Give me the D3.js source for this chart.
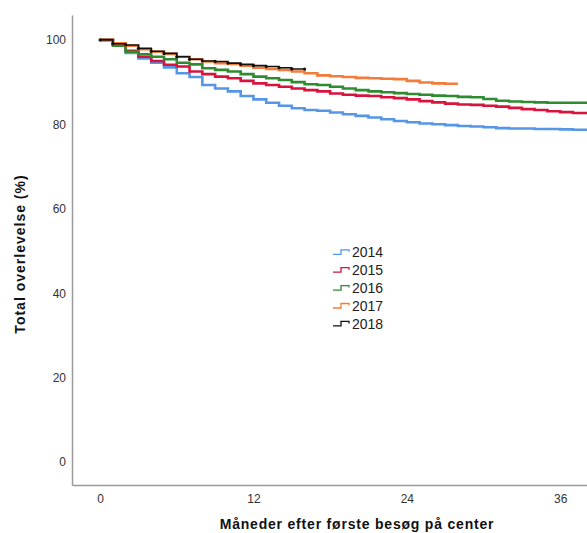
<!DOCTYPE html>
<html>
<head>
<meta charset="utf-8">
<script src="https://cdn.jsdelivr.net/npm/d3@7"></script>
<style>
  body { margin: 0; background: #fff; }
  svg { display: block; font-family: "Liberation Sans", Arial, sans-serif; }
</style>
</head>
<body>
<div id="chart"></div>
<script>
// Months since first visit at which the curves are read (one step per month)
const months = [0, 1, 2, 3, 4, 5, 6, 7, 8, 9, 10, 11, 12, 13, 14, 15, 16, 17, 18, 19,
  20, 21, 22, 23, 24, 25, 26, 27, 28, 29, 30, 31, 32, 33, 34, 35, 36, 37, 38.2];

// Survival (%) per cohort, one value per month above (null = no follow-up)
const s2014 = [100, 98.9, 96.9, 95.6, 94.6, 93.5, 92.1, 91.2, 89.3, 88.5, 87.8, 86.7, 85.9, 85.1, 84.4, 83.8, 83.4, 83.2, 82.8, 82.4,
  82.0, 81.6, 81.2, 80.8, 80.5, 80.2, 80.0, 79.8, 79.6, 79.5, 79.3, 79.1, 79.0, 79.0, 78.9, 78.9, 78.8, 78.7, 78.6];
const s2015 = [100, 99.0, 97.4, 96.0, 95.0, 94.1, 93.7, 92.5, 91.9, 91.3, 90.9, 90.3, 89.7, 89.3, 88.9, 88.5, 88.1, 87.8, 87.3, 87.0,
  86.8, 86.7, 86.4, 86.2, 85.9, 85.5, 85.2, 84.9, 84.7, 84.6, 84.4, 84.2, 83.9, 83.6, 83.4, 83.1, 82.9, 82.7, 82.5];
const s2016 = [100, 98.6, 97.2, 96.6, 96.0, 95.4, 94.6, 94.2, 93.3, 92.9, 92.5, 91.9, 91.3, 90.9, 90.5, 90.0, 89.5, 89.3, 88.9, 88.5,
  88.1, 87.8, 87.6, 87.4, 87.2, 87.0, 86.8, 86.7, 86.5, 86.4, 86.0, 85.6, 85.4, 85.3, 85.2, 85.1, 85.1, 85.1, 85.1];
const s2017 = [100, 99.2, 98.6, 97.8, 97.2, 96.7, 96.0, 95.4, 94.9, 94.5, 94.3, 93.9, 93.4, 93.1, 92.9, 92.5, 92.1, 91.6, 91.4, 91.2,
  91.0, 90.9, 90.8, 90.7, 90.3, 89.9, 89.7, 89.6, 89.6, null, null, null, null, null, null, null, null, null, null];
const s2018 = [100, 99.1, 98.8, 98.0, 97.3, 96.8, 96.0, 95.4, 95.0, 94.9, 94.5, 94.2, 93.9, 93.7, 93.4, 93.1, 93.1, null, null, null,
  null, null, null, null, null, null, null, null, null, null, null, null, null, null, null, null, null, null, null];

const cohorts = ['2014', '2015', '2016', '2017', '2018'];
const seriesValues = [s2014, s2015, s2016, s2017, s2018];
const colors = ['#5596e6', '#d8133c', '#2f8b2f', '#f57b3a', '#111111'];

const xTicks = [0, 12, 24, 36];
const yTicks = [0, 20, 40, 60, 80, 100];

const width = 587;
const height = 533;

const svg = d3.select('#chart')
  .append('svg')
  .attr('width', width)
  .attr('height', height);

const x = d3.scaleLinear().domain([-2.2, 38.1]).range([72, 587]);
const y = d3.scaleLinear().domain([-5.45, 105.9]).range([485, 15]);

svg.append('defs').append('clipPath')
  .attr('id', 'plot')
  .append('rect')
  .attr('x', 72).attr('y', 10)
  .attr('width', width - 72).attr('height', 475);

// Axes: plain grey lines with labels only, no tick marks
const xAxis = svg.append('g')
  .attr('transform', `translate(0, ${y.range()[0]})`)
  .call(d3.axisBottom(x).tickValues(xTicks).tickSize(0).tickPadding(7));
const yAxis = svg.append('g')
  .attr('transform', `translate(${x.range()[0]}, 0)`)
  .call(d3.axisLeft(y).tickValues(yTicks).tickSize(0).tickPadding(6));

[xAxis, yAxis].forEach(ax => {
  ax.select('.domain').attr('stroke', '#9a9a9a').attr('stroke-width', 1.5);
  ax.selectAll('text')
    .attr('fill', '#333')
    .style('font-size', '12px')
    .style('font-family', '"Liberation Sans", Arial, sans-serif');
});
xAxis.selectAll('text').attr('dy', '0.9em');

// Step curves
const line = d3.line()
  .x(d => x(d.m))
  .y(d => y(d.v))
  .curve(d3.curveStepAfter);

const plot = svg.append('g').attr('clip-path', 'url(#plot)');

seriesValues.forEach((vals, i) => {
  const pts = months.map((m, j) => ({ m, v: vals[j] })).filter(d => d.v != null);
  plot.append('path')
    .datum(pts)
    .attr('fill', 'none')
    .attr('stroke', colors[i])
    .attr('stroke-width', i === 4 ? 1.6 : 2.6)
    .attr('d', line);
});

// Censor marks on the 2018 curve
const pts2018 = months.map((m, j) => ({ m, v: s2018[j] })).filter(d => d.v != null);
plot.selectAll('.cens')
  .data(pts2018)
  .enter()
  .append('circle')
  .attr('cx', d => x(d.m))
  .attr('cy', d => y(d.v))
  .attr('r', 1.6)
  .attr('fill', '#111');

// Legend
const legend = svg.append('g').attr('transform', 'translate(333, 252.3)');
cohorts.forEach((c, i) => {
  const g = legend.append('g').attr('transform', `translate(0, ${i * 17.9})`);
  g.append('path')
    .attr('d', 'M0,2 H8 V-2.5 H16 V-0.5')
    .attr('fill', 'none')
    .attr('stroke', colors[i])
    .attr('stroke-width', 1.3);
  g.append('text')
    .attr('x', 19)
    .attr('y', 5)
    .attr('fill', '#222')
    .style('font-size', '14px')
    .text(c);
});

// Axis titles
svg.append('text')
  .attr('x', 357)
  .attr('y', 529)
  .attr('text-anchor', 'middle')
  .attr('fill', '#111')
  .style('font-size', '14px')
  .style('font-weight', 'bold')
  .style('letter-spacing', '0.8px')
  .text('Måneder efter første besøg på center');

svg.append('text')
  .attr('transform', 'translate(25, 254) rotate(-90)')
  .attr('text-anchor', 'middle')
  .attr('fill', '#111')
  .style('font-size', '14px')
  .style('font-weight', 'bold')
  .style('letter-spacing', '1px')
  .text('Total overlevelse (%)');
</script>
</body>
</html>
